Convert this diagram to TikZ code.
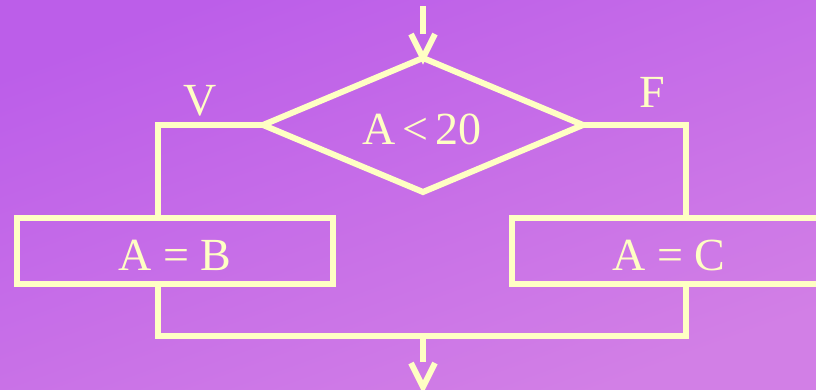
\documentclass[tikz,border=0pt]{standalone}
\usepackage{fontspec}
\setmainfont{Liberation Serif}
\usetikzlibrary{shapes.geometric,calc}
\definecolor{bgA}{HTML}{BC5EE9}
\definecolor{bgB}{HTML}{D27FE6}
\definecolor{ink}{HTML}{FFFFC4}
\tikzset{
  flow/.style={draw=ink, line width=6pt, line join=miter},
  test/.style={flow, diamond, minimum width=320pt, minimum height=134pt, inner sep=0pt, outer sep=0pt},
  action/.style={flow, rectangle, minimum width=316pt, minimum height=66pt, inner sep=0pt, outer sep=0pt},
  txt/.style={text=ink, font=\fontsize{46}{50}\selectfont, inner sep=0pt},
}
\begin{document}
\begin{tikzpicture}[x=1pt, y=-1pt]
  \useasboundingbox (0,0) rectangle (816,389);
  \shade[left color=bgA, right color=bgB, shading angle=20] (0,0) rectangle (816,389);

  % decision and the two actions
  \node[test] (cond) at (423,125) {};
  \node[txt] at (422,129) {A\hspace{7pt}<\hspace{7pt}20};
  \node[action] (yes) at (175,251) {};
  \node[txt] at (175,255) {A = B};
  \node[action] (no) at (670,251) {};
  \node[txt] at (669,255) {A = C};

  % branch labels
  \node[txt] (vlab) at (200,101) {V};
  \node[txt] (flab) at (652,92) {F};

  % entry arrow
  \coordinate (in) at (423,6);
  \coordinate (inend) at (423,34);
  \draw[flow] (in) -- (inend);
  \draw[flow] ($(cond.north)+(-12,-24)$) -- (cond.north) -- ($(cond.north)+(12,-24)$);

  % branches
  \draw[flow] (cond.west) -| (158,0 |- yes.north);
  \draw[flow] (cond.east) -| (686,0 |- no.north);

  % merge
  \coordinate (merge) at (423,336);
  \draw[flow] (158,0 |- yes.south) |- (merge) -| (686,0 |- no.south);

  % exit arrow
  \coordinate (outend) at (423,362);
  \draw[flow] (merge) -- (outend);
  \coordinate (tip) at (423,387);
  \draw[flow] ($(tip)+(-12,-24)$) -- (tip) -- ($(tip)+(12,-24)$);
\end{tikzpicture}
\end{document}
